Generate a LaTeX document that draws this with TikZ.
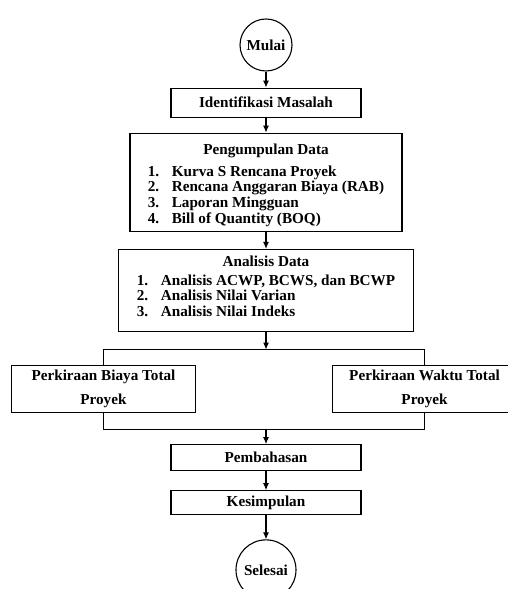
\documentclass[tikz,border=0pt]{standalone}
\usepackage{fontspec}
\setmainfont{Liberation Serif}
\usetikzlibrary{shapes, arrows.meta, positioning}

\tikzset{
    process/.style={draw, line width=1.1pt, align=center, minimum width=190pt},
    terminal/.style={draw, circle, line width=1.1pt, inner sep=0pt},
    flow/.style={line width=1.1pt, -{Latex[length=7pt,width=6pt]}},
    link/.style={line width=1.1pt}
}

\begin{document}
\begin{tikzpicture}[font=\fontsize{15.2}{15.7}\selectfont\bfseries]
\useasboundingbox (0,0) rectangle (507pt,589pt);

\node[terminal,
    minimum size=52pt] (mulai) at (266pt,544pt) {Mulai};

\node[process,
    below=16pt of mulai,
    minimum height=29pt] (identifikasi) {Identifikasi Masalah};

\node[process,
    below=15pt of identifikasi,
    minimum width=272pt,
    minimum height=96pt] (pengumpulan) {\begin{tabular}{@{}l@{\hspace{12.6pt}}l@{}}
    \multicolumn{2}{c}{\rule{0pt}{18pt}Pengumpulan Data}\\[6pt]
    1. & Kurva S Rencana Proyek\\
    2. & Rencana Anggaran Biaya (RAB)\\
    3. & Laporan Mingguan\\
    4. & Bill of Quantity (BOQ)
    \end{tabular}};

\node[process,
    below=17pt of pengumpulan,
    minimum width=295pt,
    minimum height=82pt] (analisis) {\begin{tabular}{@{}l@{\hspace{12.6pt}}l@{}}
    \multicolumn{2}{c}{Analisis Data}\\[2.5pt]
    1. & Analisis ACWP, BCWS, dan BCWP\\
    2. & Analisis Nilai Varian\\
    3. & Analisis Nilai Indeks\\[4pt]
    \end{tabular}};

\coordinate[below=17.5pt of analisis] (split);

\node[process,
    below left=15.5pt and 70pt of split,
    minimum width=184pt,
    minimum height=47pt] (biaya) {Perkiraan Biaya Total\\[8pt]Proyek};

\node[process,
    below right=15.5pt and 66pt of split,
    minimum width=184pt,
    minimum height=47pt] (waktu) {Perkiraan Waktu Total\\[8pt]Proyek};

\coordinate[below=16.5pt of biaya.south] (lowl);
\coordinate (join) at (split |- lowl);

\node[process,
    below=14.5pt of join,
    minimum height=26pt] (pembahasan) {Pembahasan};

\node[process,
    below=19pt of pembahasan,
    minimum height=24pt] (kesimpulan) {Kesimpulan};

% End block
\node[terminal,
    below=24pt of kesimpulan,
    minimum size=60pt] (selesai) {Selesai};

% Arrows
\draw[flow] (mulai) -- (identifikasi);
\draw[flow] (identifikasi) -- (pengumpulan);
\draw[flow] (pengumpulan) -- (analisis);
\draw[flow] (analisis) -- (split);
\draw[link] (biaya.north) |- (split) -| (waktu.north);
\draw[link] (biaya.south) |- (join) -| (waktu.south);
\draw[flow] (join) -- (pembahasan);
\draw[flow] (pembahasan) -- (kesimpulan);
\draw[flow] (kesimpulan) -- (selesai);

\end{tikzpicture}
\end{document}
